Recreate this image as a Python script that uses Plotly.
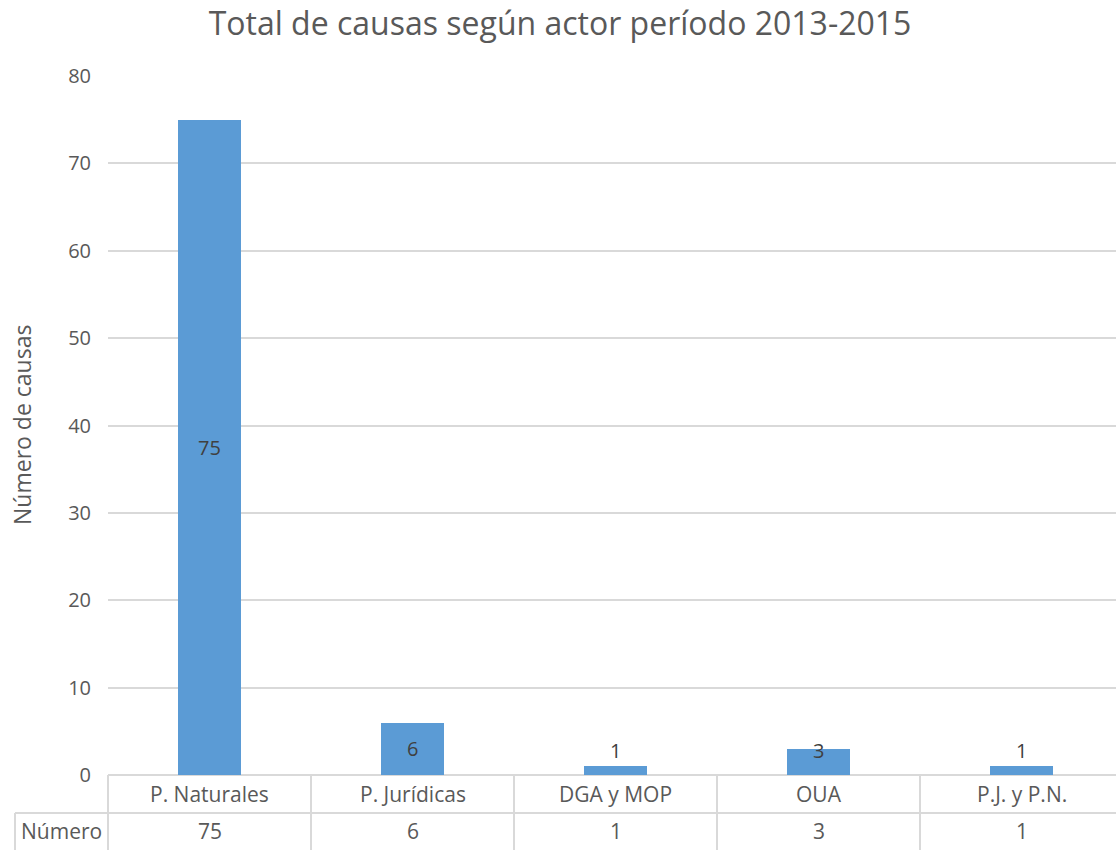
import plotly.graph_objects as go

categories = ["P. Naturales", "P. Jurídicas", "DGA y MOP", "OUA", "P.J. y P.N."]
values = [75, 6, 1, 3, 1]
row_label = "Número"
title_text = "Total de causas según actor período 2013-2015"
y_title = "Número de causas"
y_ticks = [0, 10, 20, 30, 40, 50, 60, 70, 80]

FONT = "Open Sans"
TXT = "#595959"
GRID = "#d9d9d9"
BAR = "#5b9bd5"

W, H = 1116, 850
ML, MR, MT, MB = 108, 0, 76, 75
plot_w = W - ML - MR
plot_h = H - MT - MB
cat_px = 203.0
x_min = -0.5
x_max = x_min + plot_w / cat_px

def px_to_paper_y(py):
    return (H - MB - py) / plot_h

def xdata_to_paper(xd):
    return (xd - x_min) / (x_max - x_min)

fig = go.Figure()
fig.add_trace(go.Bar(
    x=list(range(len(categories))), y=values,
    marker=dict(color=BAR, line=dict(width=0)),
    width=0.31, hoverinfo="skip", showlegend=False,
))

ann = []
LBL = dict(family=FONT, size=20, color="#404040")
for i, v in enumerate(values):
    if v >= 5:
        ann.append(dict(x=i, y=v / 2, xref="x", yref="y", text=str(v), showarrow=False,
                        font=LBL, yanchor="middle"))
    elif v >= 3:
        ann.append(dict(x=i, y=v, xref="x", yref="y", text=str(v), showarrow=False,
                        font=LBL, yanchor="middle", yshift=-2))
    else:
        ann.append(dict(x=i, y=v, xref="x", yref="y", text=str(v), showarrow=False,
                        font=LBL, yanchor="bottom", yshift=0))

row1_top = 0.0
row1_bot = px_to_paper_y(813)
row2_bot = px_to_paper_y(852)
left_px = 15
left_paper = (left_px - ML) / plot_w

TBL = dict(family=FONT, size=21, color=TXT)
for i, (c, v) in enumerate(zip(categories, values)):
    ann.append(dict(x=i, y=(row1_top + row1_bot) / 2, xref="x", yref="paper", text=c,
                    showarrow=False, font=TBL, yanchor="middle"))
    ann.append(dict(x=i, y=(row1_bot + px_to_paper_y(850)) / 2, xref="x", yref="paper", text=str(v),
                    showarrow=False, font=TBL, yanchor="middle"))
ann.append(dict(x=(left_paper + 0) / 2, y=(row1_bot + px_to_paper_y(850)) / 2, xref="paper", yref="paper",
                text=row_label, showarrow=False, font=TBL, xanchor="center", yanchor="middle"))
ann.append(dict(x=(22 - ML) / plot_w, y=px_to_paper_y(425), xref="paper", yref="paper", text=y_title,
                textangle=-90, showarrow=False, font=dict(family=FONT, size=23, color=TXT),
                xanchor="center", yanchor="middle"))

shapes = []
line = dict(color=GRID, width=2)
shapes.append(dict(type="line", xref="paper", yref="paper", x0=left_paper, x1=1, y0=row1_bot, y1=row1_bot, line=line))
shapes.append(dict(type="line", xref="paper", yref="paper", x0=left_paper, x1=left_paper, y0=row1_bot, y1=row2_bot, line=line))
for i in range(len(categories)):
    xp = xdata_to_paper(i - 0.5)
    shapes.append(dict(type="line", xref="paper", yref="paper", x0=xp, x1=xp, y0=0, y1=row2_bot, line=line))

fig.update_layout(
    width=W, height=H,
    margin=dict(l=ML, r=MR, t=MT, b=MB, pad=0),
    paper_bgcolor="white", plot_bgcolor="white",
    title=dict(text=title_text, x=560 / W, xref="container", xanchor="center", y=1 - 24 / H,
               yref="container", yanchor="middle",
               font=dict(family=FONT, size=32, color=TXT)),
    xaxis=dict(range=[x_min, x_max], showticklabels=False, showgrid=False, zeroline=False,
               showline=False, ticks="", fixedrange=True),
    yaxis=dict(range=[0, 80], tickvals=y_ticks, showgrid=True, gridcolor=GRID, gridwidth=2,
               zeroline=True, zerolinecolor=GRID, zerolinewidth=2, showline=False, ticks="",
               tickfont=dict(family=FONT, size=20, color=TXT), ticklabelstandoff=16),
    annotations=ann, shapes=shapes, bargap=0,
)

fig.write_html("out.html", config={"displayModeBar": False},
               post_script="document.body.style.margin='0px';document.body.style.overflow='hidden';")
